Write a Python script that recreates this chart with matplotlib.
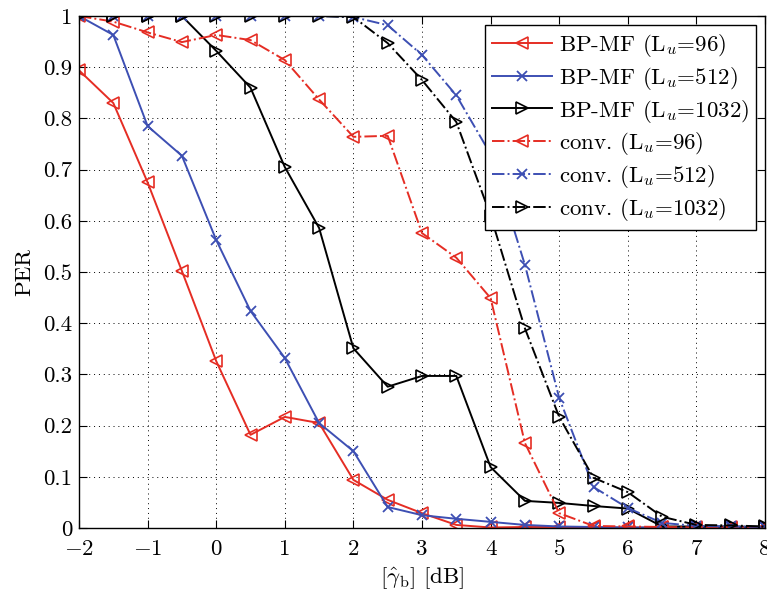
import matplotlib
matplotlib.use("Agg")
import matplotlib.pyplot as plt
import numpy as np

plt.rcParams['font.family'] = ['cmr10', 'DejaVu Serif']
plt.rcParams['mathtext.fontset'] = 'cm'
plt.rcParams['axes.formatter.use_mathtext'] = True
plt.rcParams['axes.unicode_minus'] = True

snr_db = [-2, -1.5, -1, -0.5, 0, 0.5, 1, 1.5, 2, 2.5, 3, 3.5, 4, 4.5, 5,
          5.5, 6, 6.5, 7, 7.5, 8]

bpmf_96 = [0.894, 0.830, 0.675, 0.502, 0.326, 0.182, 0.217, 0.205, 0.094,
           0.055, 0.029, 0.006, 0.001, 0.002, 0.002, 0.001, 0.001, 0.001,
           0.0005, 0.0005, 0.0005]
bpmf_512 = [1.0, 0.963, 0.785, 0.727, 0.5625, 0.424, 0.332, 0.205, 0.150,
            0.041, 0.025, 0.018, 0.012, 0.006, 0.003, 0.002, 0.001, 0.001,
            0.001, 0.001, 0.001]
bpmf_1032 = [1.0, 1.0, 1.0, 1.0, 0.932, 0.860, 0.705, 0.586, 0.351, 0.276,
             0.297, 0.297, 0.119, 0.053, 0.049, 0.043, 0.038, 0.003, 0.003,
             0.003, 0.002]
conv_96 = [1.0, 0.989, 0.968, 0.949, 0.963, 0.953, 0.914, 0.837, 0.764,
           0.766, 0.576, 0.528, 0.449, 0.166, 0.029, 0.004, 0.003, 0.002,
           0.001, 0.001, 0.001]
conv_512 = [1.0, 1.0, 1.0, 1.0, 1.0, 1.0, 1.0, 1.0, 0.998, 0.982, 0.924,
            0.845, 0.73, 0.514, 0.254, 0.080, 0.039, 0.010, 0.004, 0.003,
            0.002]
conv_1032 = [1.0, 1.0, 1.0, 1.0, 1.0, 1.0, 1.0, 1.0, 0.998, 0.947, 0.875,
             0.793, 0.61, 0.390, 0.217, 0.098, 0.070, 0.022, 0.006, 0.005,
             0.003]

labels = [r'BP-MF (L$_u$=96)', r'BP-MF (L$_u$=512)', r'BP-MF (L$_u$=1032)',
          r'conv. (L$_u$=96)', r'conv. (L$_u$=512)', r'conv. (L$_u$=1032)']
xtick_labels = [r'$-2$', r'$-1$', '0', '1', '2', '3', '4', '5', '6', '7', '8']
ytick_labels = ['0', '0.1', '0.2', '0.3', '0.4', '0.5', '0.6', '0.7',
                '0.8', '0.9', '1']

red = '#e52d24'
blue = '#3d4fb3'
black = '#000000'
fs = 16.5

fig = plt.figure(figsize=(7.67, 5.93), dpi=100)
ax = fig.add_axes([0.103, 0.1096, 0.8944, 0.8634])

tri = dict(markersize=9, markerfacecolor='none', markeredgewidth=1.2, lw=1.4)
crs = dict(markersize=6.5, markeredgewidth=1.3, lw=1.4)

ax.plot(snr_db, bpmf_96, '-', marker='<', color=red, label=labels[0], **tri)
ax.plot(snr_db, bpmf_512, '-', marker='x', color=blue, label=labels[1], **crs)
ax.plot(snr_db, bpmf_1032, '-', marker='>', color=black, label=labels[2], **tri)
ax.plot(snr_db, conv_96, '-.', marker='<', color=red, label=labels[3], **tri)
ax.plot(snr_db, conv_512, '-.', marker='x', color=blue, label=labels[4], **crs)
ax.plot(snr_db, conv_1032, '-.', marker='>', color=black, label=labels[5], **tri)

ax.set_xlim(-2, 8)
ax.set_ylim(0, 1)
ax.set_xticks(np.arange(-2, 9, 1))
ax.set_yticks(np.linspace(0, 1, 11))
ax.set_xticklabels(xtick_labels)
ax.set_yticklabels(ytick_labels)
ax.tick_params(direction='in', top=True, right=True, labelsize=fs,
               length=6, width=0.8)
ax.tick_params(axis='x', pad=8)
ax.tick_params(axis='y', pad=5)
ax.grid(True, linestyle=(0, (1, 4)), color='black', lw=0.7)
for s in ax.spines.values():
    s.set_linewidth(1.0)

ax.set_xlabel(r'$[\hat{\gamma}_{\rm b}]$ [dB]', fontsize=fs, labelpad=5)
ax.set_ylabel('PER', fontsize=fs, labelpad=6)

leg = ax.legend(loc='upper right', fontsize=fs, fancybox=False,
                edgecolor='black', framealpha=1, handlelength=2.6,
                borderaxespad=0.4, labelspacing=0.25, borderpad=0.3,
                handletextpad=0.3)
leg.get_frame().set_linewidth(1.0)

fig.savefig('out.png', dpi=100)
